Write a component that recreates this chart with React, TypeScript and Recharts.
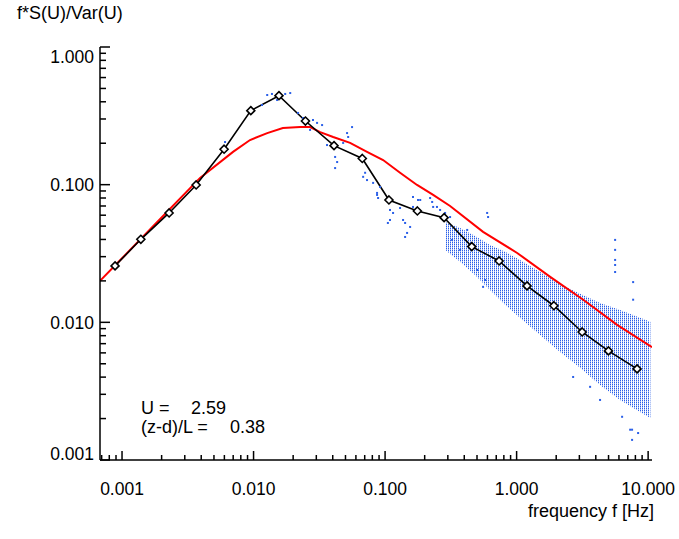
import { ComposedChart, XAxis, YAxis, Line, Scatter, Area } from "recharts";

// model spectrum (red)
const redFreq = [0.00068, 0.001, 0.002, 0.00392, 0.00698, 0.0094, 0.0127, 0.0167, 0.0226, 0.0269, 0.0321, 0.0403, 0.0542, 0.0729, 0.0966, 0.13, 0.175, 0.232, 0.312, 0.556, 1.01, 1.8, 3.21, 5.81, 10.7];
const redVal = [0.02, 0.0292, 0.0578, 0.112, 0.173, 0.211, 0.237, 0.258, 0.262, 0.262, 0.241, 0.222, 0.201, 0.173, 0.151, 0.122, 0.0995, 0.0842, 0.07, 0.0454, 0.0319, 0.0214, 0.0146, 0.00958, 0.0066];

// bin averaged spectrum (black, diamonds)
const binFreq = [0.000885, 0.00139, 0.00228, 0.00366, 0.00597, 0.00953, 0.0156, 0.0248, 0.0409, 0.0671, 0.107, 0.176, 0.281, 0.456, 0.736, 1.2, 1.92, 3.15, 4.99, 8.24];
const binVal = [0.0257, 0.0401, 0.0623, 0.0995, 0.181, 0.345, 0.443, 0.29, 0.192, 0.155, 0.0774, 0.0644, 0.0576, 0.0355, 0.0279, 0.0184, 0.0132, 0.00851, 0.0062, 0.00459];

// dense cloud of raw estimates (upper / lower edge)
const bandFreq = [0.286, 0.372, 0.483, 0.628, 0.818, 1.06, 1.51, 2.14, 3.04, 4.31, 6.12, 8.69, 10.4];
const bandHigh = [0.0536, 0.0485, 0.0424, 0.0365, 0.0325, 0.0284, 0.0232, 0.019, 0.0161, 0.0138, 0.0123, 0.0108, 0.0101];
const bandLow = [0.0336, 0.0275, 0.0221, 0.0172, 0.0134, 0.0108, 0.0081, 0.0061, 0.00467, 0.00351, 0.00273, 0.00223, 0.00202];

// scattered raw estimates
const dotFreq = [0.00607, 0.0116, 0.0127, 0.0138, 0.0151, 0.0174, 0.019, 0.0218, 0.0238, 0.0283, 0.0304, 0.0332, 0.0269, 0.0362, 0.0395, 0.0417, 0.0432, 0.0417, 0.0514, 0.0561, 0.0524, 0.048, 0.0681, 0.0729, 0.0705, 0.0869, 0.0885, 0.109, 0.115, 0.13, 0.105, 0.142, 0.155, 0.163, 0.178, 0.22, 0.232, 0.262, 0.286, 0.163, 0.0811, 0.0916, 0.0869, 0.109, 0.137, 0.147, 0.142, 0.185, 0.228, 0.248, 0.312, 0.323, 0.372, 0.421, 0.597, 0.607, 0.501, 0.576, 0.556, 5.61, 5.61, 5.61, 5.61, 5.61, 7.69, 7.69, 7.55, 7.55, 8.39, 7.3, 6.34, 4.31, 3.62, 2.69];
const dotVal = [0.204, 0.379, 0.448, 0.456, 0.412, 0.456, 0.463, 0.332, 0.305, 0.295, 0.281, 0.271, 0.25, 0.194, 0.188, 0.159, 0.146, 0.132, 0.237, 0.262, 0.222, 0.201, 0.114, 0.108, 0.122, 0.0842, 0.08, 0.0655, 0.0623, 0.0677, 0.0527, 0.0527, 0.0493, 0.0814, 0.0774, 0.08, 0.0689, 0.0655, 0.0623, 0.0689, 0.103, 0.0962, 0.0871, 0.0554, 0.0554, 0.0446, 0.0417, 0.0774, 0.0749, 0.0689, 0.0582, 0.0397, 0.0336, 0.0469, 0.0623, 0.0582, 0.024, 0.0203, 0.0181, 0.0397, 0.0336, 0.0284, 0.0261, 0.0232, 0.0196, 0.0146, 0.00166, 0.0014, 0.00157, 0.00166, 0.00206, 0.00273, 0.0034, 0.00401];

const xMajor = [0.001, 0.01, 0.1, 1, 10];
const yMajor = [0.001, 0.01, 0.1, 1];
const minorMult = [2, 3, 4, 5, 6, 7, 8, 9];

const X_MIN = 0.00068;
const X_MAX = 10.7;

const xTicks = [0.0007, 0.0008, 0.0009, ...xMajor.flatMap((d) => [d, ...minorMult.map((m) => Number((d * m).toPrecision(3)))])].filter(
  (t) => t >= X_MIN && t <= X_MAX
);
const yTicks = yMajor.flatMap((d) => (d < 1 ? [d, ...minorMult.map((m) => Number((d * m).toPrecision(3)))] : [d]));

const redData = redFreq.map((f, i) => ({ f, v: redVal[i] }));
const binData = binFreq.map((f, i) => ({ f, v: binVal[i] }));
const bandData = bandFreq.map((f, i) => ({ f, range: [bandLow[i], bandHigh[i]] }));
const dotData = dotFreq.map((f, i) => ({ f, v: dotVal[i] }));

const FONT = "'Liberation Sans', Arial, sans-serif";
const BLUE = "#2a5fe8";

const XTick = (props: any) => {
  const { x, y, payload } = props;
  const major = xMajor.includes(payload.value);
  return (
    <g>
      <line x1={x} x2={x} y1={y} y2={y - (major ? 9 : 5)} stroke="#000" strokeWidth={1.5} />
      {major && (
        <text x={x} y={y + 35} textAnchor="middle" fontSize={17.5} fontFamily={FONT} fill="#000">
          {payload.value.toFixed(3)}
        </text>
      )}
    </g>
  );
};

const YTick = (props: any) => {
  const { x, y, payload } = props;
  const major = yMajor.includes(payload.value);
  // top and bottom labels sit inside the axis range
  let dy = 6.5;
  if (payload.value === 1) dy = 16;
  if (payload.value === 0.001) dy = 0;
  return (
    <g>
      <line x1={x} x2={x + (major ? 10 : 6)} y1={y} y2={y} stroke="#000" strokeWidth={1.5} />
      {major && (
        <text x={x - 6} y={y + dy} textAnchor="end" fontSize={17.5} fontFamily={FONT} fill="#000">
          {payload.value.toFixed(3)}
        </text>
      )}
    </g>
  );
};

const Diamond = (props: any) => {
  const { cx, cy } = props;
  if (cx == null || cy == null) return null;
  return (
    <polygon
      points={`${cx},${cy - 4} ${cx + 4},${cy} ${cx},${cy + 4} ${cx - 4},${cy}`}
      fill="#fff"
      stroke="#000"
      strokeWidth={1.6}
    />
  );
};

const Dot = (props: any) => {
  const { cx, cy } = props;
  return <rect x={cx - 1} y={cy - 1} width={2} height={2} fill={BLUE} />;
};

const txt: any = { position: "absolute", fontFamily: FONT, fontSize: 18, color: "#000", whiteSpace: "pre", lineHeight: 1 };

export default function App() {
  return (
    <div style={{ position: "absolute", left: 0, top: 0, width: 679, height: 539, background: "#fff" }}>
      <ComposedChart width={679} height={539} margin={{ top: 47, right: 27, left: 40, bottom: 39 }}>
        <defs>
          <pattern id="cloud" width="2" height="2" patternUnits="userSpaceOnUse">
            <rect width="1" height="1.4" fill={BLUE} />
          </pattern>
        </defs>
        <XAxis
          dataKey="f"
          type="number"
          scale="log"
          domain={[X_MIN, X_MAX]}
          allowDataOverflow
          ticks={xTicks}
          interval={0}
          height={40}
          tickSize={0}
          tickMargin={0}
          tick={<XTick />}
          axisLine={{ stroke: "#000", strokeWidth: 1.5 }}
          tickLine={false}
        />
        <YAxis
          type="number"
          scale="log"
          domain={[0.001, 1]}
          allowDataOverflow
          ticks={yTicks}
          interval={0}
          width={60}
          tickSize={0}
          tickMargin={0}
          tick={<YTick />}
          axisLine={{ stroke: "#000", strokeWidth: 1.5 }}
          tickLine={false}
        />
        <Area
          data={bandData}
          dataKey="range"
          type="linear"
          stroke="none"
          fill="url(#cloud)"
          fillOpacity={1}
          isAnimationActive={false}
        />
        <Scatter data={dotData} dataKey="v" shape={<Dot />} isAnimationActive={false} />
        <Line data={redData} dataKey="v" type="linear" stroke="#ff0000" strokeWidth={2} dot={false} isAnimationActive={false} />
        <Line
          data={binData}
          dataKey="v"
          type="linear"
          stroke="#000"
          strokeWidth={1.6}
          dot={<Diamond />}
          isAnimationActive={false}
        />
      </ComposedChart>
      <div style={{ ...txt, left: 17, top: 4 }}>f*S(U)/Var(U)</div>
      <div style={{ ...txt, left: 528, top: 502 }}>frequency f [Hz]</div>
      <div style={{ ...txt, left: 141, top: 399 }}>U =</div>
      <div style={{ ...txt, left: 191, top: 399 }}>2.59</div>
      <div style={{ ...txt, left: 141, top: 418 }}>(z-d)/L =</div>
      <div style={{ ...txt, left: 230, top: 418 }}>0.38</div>
    </div>
  );
}
